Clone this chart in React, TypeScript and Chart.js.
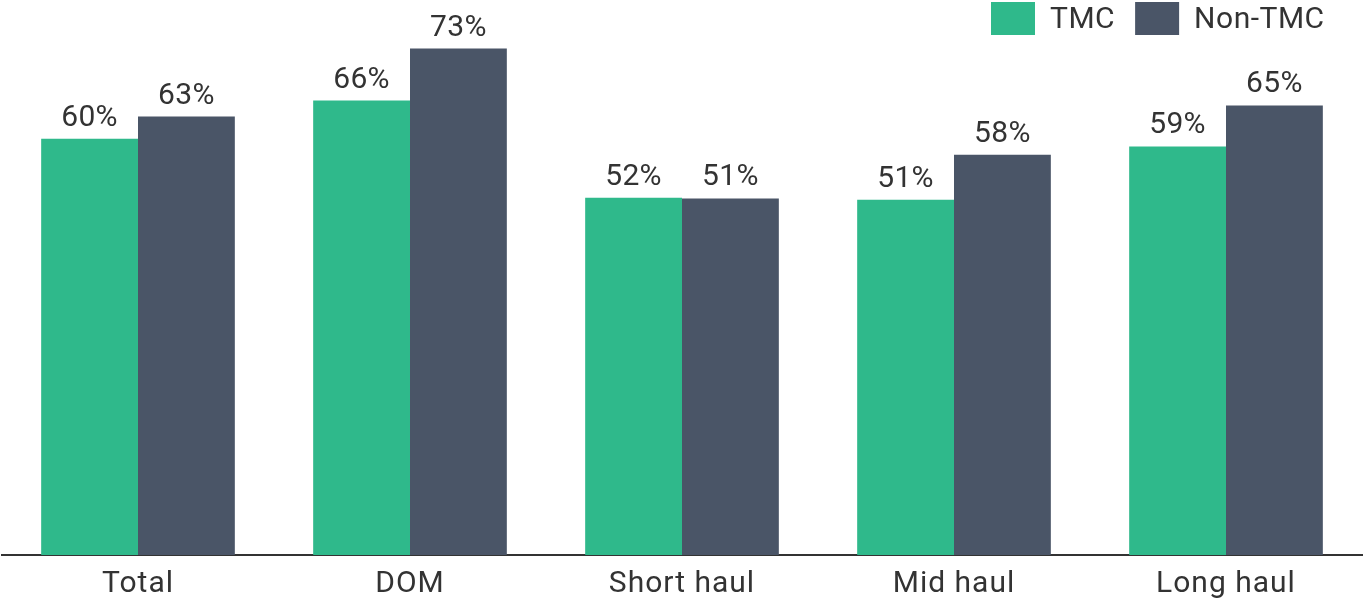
import React, { useEffect, useRef } from "react";
import { Chart, registerables } from "chart.js";

Chart.register(...registerables);

const categories = ["Total", "DOM", "Short haul", "Mid haul", "Long haul"];
const seriesNames = ["TMC", "Non-TMC"];
const tmcValues = [60.0, 65.5, 51.5, 51.2, 58.9];
const nonTmcValues = [63.2, 73.0, 51.4, 57.7, 64.8];
const seriesColors = ["#2FB98B", "#4A5567"];
const FONT = "Roboto, 'Open Sans', sans-serif";
const TEXT = "#333333";

const tickSpacing = {
  id: "tickSpacing",
  beforeDraw(chart: any) {
    chart.ctx.letterSpacing = "1px";
  },
  afterDraw(chart: any) {
    chart.ctx.letterSpacing = "0px";
  },
};

const valueLabels = {
  id: "valueLabels",
  afterDatasetsDraw(chart: any) {
    const ctx = chart.ctx;
    ctx.save();
    ctx.letterSpacing = "0.3px";
    ctx.font = `30px ${FONT}`;
    ctx.fillStyle = TEXT;
    ctx.textAlign = "center";
    ctx.textBaseline = "alphabetic";
    chart.data.datasets.forEach((ds: any, i: number) => {
      const meta = chart.getDatasetMeta(i);
      meta.data.forEach((bar: any, j: number) => {
        const v = ds.data[j];
        ctx.fillText(`${Math.round(v)}%`, bar.x, bar.y - 13);
      });
    });
    ctx.restore();
  },
};

const customLegend = {
  id: "customLegend",
  afterDraw(chart: any) {
    const ctx = chart.ctx;
    ctx.save();
    ctx.letterSpacing = "0.5px";
    ctx.font = `30px ${FONT}`;
    ctx.textBaseline = "alphabetic";
    ctx.textAlign = "left";
    const boxW = 44;
    const boxH = 33;
    const gapBoxText = 15;
    const gapItems = 20;
    let x = 991;
    chart.data.datasets.forEach((d: any) => {
      ctx.fillStyle = d.backgroundColor;
      ctx.fillRect(x, 2, boxW, boxH);
      ctx.fillStyle = TEXT;
      ctx.fillText(d.label, x + boxW + gapBoxText, 28);
      x += boxW + gapBoxText + ctx.measureText(d.label).width + gapItems;
    });
    ctx.restore();
  },
};

export default function App() {
  const ref = useRef<HTMLCanvasElement>(null);
  useEffect(() => {
    document.body.style.margin = "0";
    const chart = new Chart(ref.current!, {
      type: "bar",
      data: {
        labels: categories,
        datasets: [
          { label: seriesNames[0], data: tmcValues, backgroundColor: seriesColors[0] },
          { label: seriesNames[1], data: nonTmcValues, backgroundColor: seriesColors[1] },
        ],
      },
      options: {
        responsive: false,
        animation: false,
        devicePixelRatio: 1,
        layout: { padding: { left: 2, right: 1, top: 0, bottom: -12 } },
        datasets: {
          bar: { categoryPercentage: 0.712, barPercentage: 1.0 },
        },
        plugins: {
          legend: { display: false },
          tooltip: { enabled: false },
        },
        scales: {
          x: {
            grid: { display: false, drawTicks: false },
            border: { display: true, color: "#333333", width: 2 },
            ticks: { color: TEXT, font: { family: FONT, size: 30 }, padding: 11, maxRotation: 0 },
          },
          y: {
            display: false,
            min: 0,
            max: 80,
          },
        },
      },
      plugins: [tickSpacing, valueLabels, customLegend],
    });
    return () => chart.destroy();
  }, []);
  return (
    <div style={{ width: 1363, height: 601, background: "#ffffff" }}>
      <canvas ref={ref} width={1363} height={601} />
    </div>
  );
}
